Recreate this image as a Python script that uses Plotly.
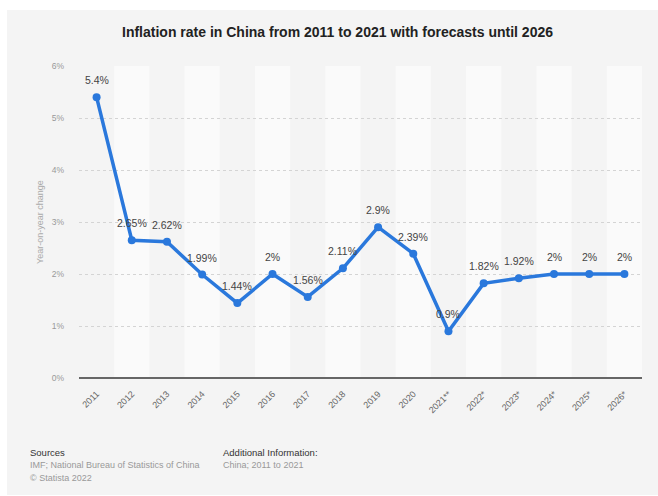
import plotly.graph_objects as go

years = ["2011", "2012", "2013", "2014", "2015", "2016", "2017", "2018", "2019", "2020",
         "2021**", "2022*", "2023*", "2024*", "2025*", "2026*"]
inflation = [5.4, 2.65, 2.62, 1.99, 1.44, 2, 1.56, 2.11, 2.9, 2.39, 0.9, 1.82, 1.92, 2, 2, 2]
value_labels = ["5.4%", "2.65%", "2.62%", "1.99%", "1.44%", "2%", "1.56%", "2.11%", "2.9%",
                "2.39%", "0.9%", "1.82%", "1.92%", "2%", "2%", "2%"]
y_ticks = [0, 1, 2, 3, 4, 5, 6]
y_tick_labels = ["0%", "1%", "2%", "3%", "4%", "5%", "6%"]

W, H = 658, 496
L, R, T, B = 79, 16, 66, 118
PW, PH = W - L - R, H - T - B


def px(x):
    return (x - L) / PW


def py(y):
    return (H - B - y) / PH


font = "Liberation Sans, Arial"

fig = go.Figure()
fig.add_trace(go.Scatter(
    x=years, y=inflation, mode="lines+markers",
    line=dict(color="#2a78dc", width=3.5),
    marker=dict(color="#2a78dc", size=8),
    cliponaxis=False, hoverinfo="skip", showlegend=False,
))

shapes = [dict(type="rect", xref="paper", yref="paper", x0=px(7), x1=px(W + 2),
               y0=py(H - 1), y1=py(10), fillcolor="#f4f4f4", line=dict(width=0), layer="below")]
for i in range(1, len(years), 2):
    shapes.append(dict(type="rect", xref="x", yref="paper", x0=i - 0.5, x1=i + 0.5,
                       y0=0, y1=1, fillcolor="#fafafa", line=dict(width=0), layer="below"))

annotations = []
for i, (yv, lab) in enumerate(zip(inflation, value_labels)):
    annotations.append(dict(x=i, y=yv, xref="x", yref="y", text=lab, showarrow=False,
                            yshift=17, xanchor="center", yanchor="middle",
                            font=dict(family=font, size=10.5, color="#444444")))

annotations += [
    dict(text="<b>Inflation rate in China from 2011 to 2021 with forecasts until 2026</b>",
         xref="paper", yref="paper", x=px(337), y=py(32), xanchor="center", yanchor="middle",
         showarrow=False, font=dict(family=font, size=14, color="#222222")),
    dict(text="Sources", xref="paper", yref="paper", x=px(28), y=py(452), xanchor="left",
         yanchor="middle", showarrow=False, font=dict(family=font, size=9.5, color="#333333")),
    dict(text="IMF; National Bureau of Statistics of China", xref="paper", yref="paper",
         x=px(28), y=py(465), xanchor="left", yanchor="middle", showarrow=False,
         font=dict(family=font, size=9, color="#999999")),
    dict(text="© Statista 2022", xref="paper", yref="paper", x=px(28), y=py(478),
         xanchor="left", yanchor="middle", showarrow=False,
         font=dict(family=font, size=9, color="#999999")),
    dict(text="Additional Information:", xref="paper", yref="paper", x=px(221), y=py(452),
         xanchor="left", yanchor="middle", showarrow=False,
         font=dict(family=font, size=9.5, color="#333333")),
    dict(text="China; 2011 to 2021", xref="paper", yref="paper", x=px(221), y=py(465),
         xanchor="left", yanchor="middle", showarrow=False,
         font=dict(family=font, size=9, color="#999999")),
    dict(text="Year-on-year change", xref="paper", yref="paper", x=px(40), y=0.5,
         xanchor="center", yanchor="middle", textangle=-90, showarrow=False,
         font=dict(family=font, size=9, color="#aaaaaa")),
]

fig.update_layout(
    width=W, height=H,
    margin=dict(l=L, r=R, t=T, b=B, pad=0),
    paper_bgcolor="white", plot_bgcolor="rgba(0,0,0,0)",
    shapes=shapes, annotations=annotations,
    xaxis=dict(type="category", range=[-0.5, len(years) - 0.5], tickangle=-45,
               showgrid=False, zeroline=False, showline=False, ticks="",
               ticklabelstandoff=8,
               tickfont=dict(family=font, size=9, color="#666666"), fixedrange=True),
    yaxis=dict(range=[0, 6], tickvals=y_ticks, ticktext=y_tick_labels,
               showgrid=True, gridcolor="#d4d4d4", griddash="dot", gridwidth=1,
               zeroline=True, zerolinecolor="#666666", zerolinewidth=2,
               showline=False, ticks="", ticklabelstandoff=14,
               tickfont=dict(family=font, size=8.5, color="#999999"), fixedrange=True),
)

fig.write_html("out.html")
